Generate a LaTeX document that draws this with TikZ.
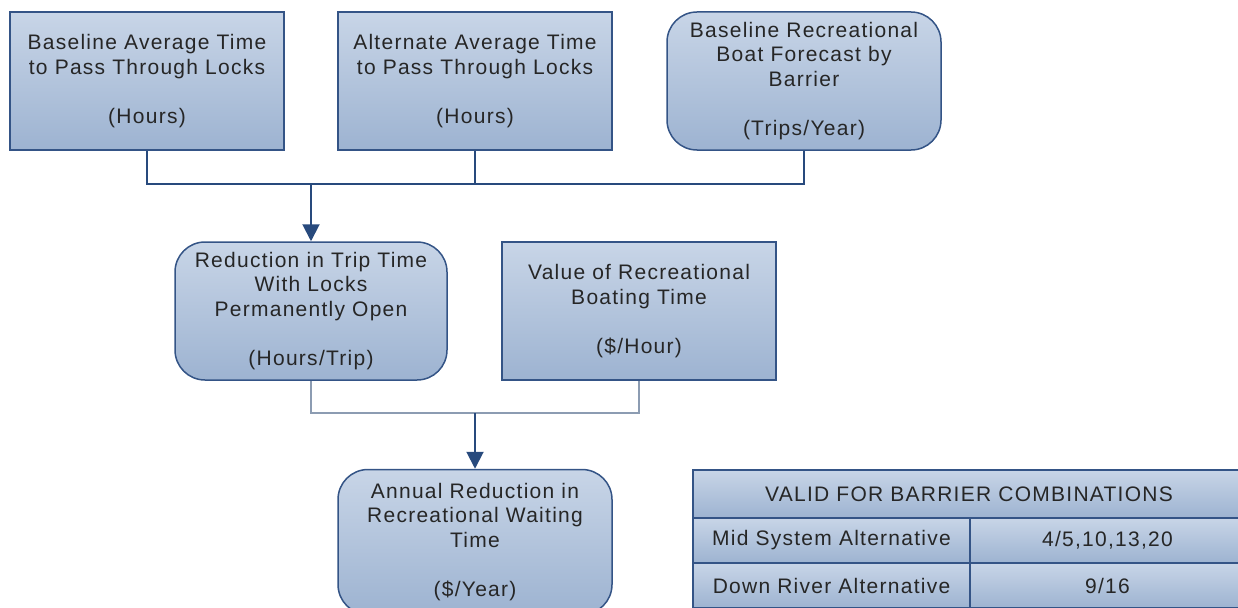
\documentclass[tikz,border=0pt]{standalone}
\usepackage{fontspec}
\setmainfont{Liberation Sans}[LetterSpace=6]
\usetikzlibrary{arrows.meta}

\definecolor{boxtop}{RGB}{200,213,231}
\definecolor{boxbot}{RGB}{157,179,209}
\definecolor{boxline}{RGB}{52,84,134}
\definecolor{wire}{RGB}{40,74,125}
\definecolor{wiregray}{RGB}{140,156,178}

\begin{document}
\begin{tikzpicture}[
            x=1pt, y=-1pt,
            every node/.style={font=\fontsize{21}{24.5}\selectfont, text=black!85},
            input/.style={
                rectangle,
                draw=boxline,
                line width=1.5pt,
                top color=boxtop,
                bottom color=boxbot,
                minimum width=274pt,
                minimum height=138pt,
                inner sep=0pt,
                align=center
            },
            calc/.style={
                input,
                rounded corners=30pt
            },
            cell/.style={
                input,
                minimum height=45pt
            },
            link/.style={
                draw=wire,
                line width=2pt
            },
            link2/.style={
                draw=wiregray,
                line width=1.6pt
            },
            arrow/.style={
                link,
                -{Triangle[width=17pt,length=17pt]}
            }
        ]
            \useasboundingbox (0,0) rectangle (1238,607);
            \clip (0,0) rectangle (1238,607);

            % Inputs
            \node[input] (basetime) at (147,81) {Baseline Average Time\\to Pass Through Locks\\[24.5pt](Hours)};
            \node[input] (alttime) at (475,81) {Alternate Average Time\\to Pass Through Locks\\[24.5pt](Hours)};
            \node[calc] (forecast) at (804,81) {Baseline Recreational\\Boat Forecast by\\Barrier\\[24.5pt](Trips/Year)};

            % Middle row
            \node[calc, minimum width=272pt] (reduction) at (311,311) {Reduction in Trip Time\\With Locks\\Permanently Open\\[24.5pt](Hours/Trip)};
            \node[input] (value) at (639,311) {Value of Recreational\\Boating Time\\[24.5pt](\$/Hour)};

            % Result
            \node[calc, minimum height=145pt] (annual) at (475,542) {Annual Reduction in\\Recreational Waiting\\Time\\[24.5pt](\$/Year)};

            % Table
            \node[cell, minimum width=552pt, minimum height=48pt] (valid) at (969,494) {VALID FOR BARRIER COMBINATIONS};
            \node[cell, minimum width=277pt] (midname) at (831.5,540.5) {Mid System Alternative};
            \node[cell, minimum width=275pt] (midvals) at (1107.5,540.5) {4/5,10,13,20};
            \node[cell, minimum width=277pt] (downname) at (831.5,585.5) {Down River Alternative};
            \node[cell, minimum width=275pt] (downvals) at (1107.5,585.5) {9/16};

            % Connections
            \coordinate (bus1) at (reduction.north |- 0,184);
            \coordinate (bus2) at (annual.north |- 0,413);
            \draw[link] (basetime.south) |- (forecast.south |- bus1) -- (forecast.south);
            \draw[link] (alttime.south) -- (alttime.south |- bus1);
            \draw[arrow] (bus1) -- (reduction.north);
            \draw[link2] (reduction.south) |- (value.south |- bus2) -- (value.south);
            \draw[arrow] (bus2) -- (annual.north);
        \end{tikzpicture}
\end{document}
